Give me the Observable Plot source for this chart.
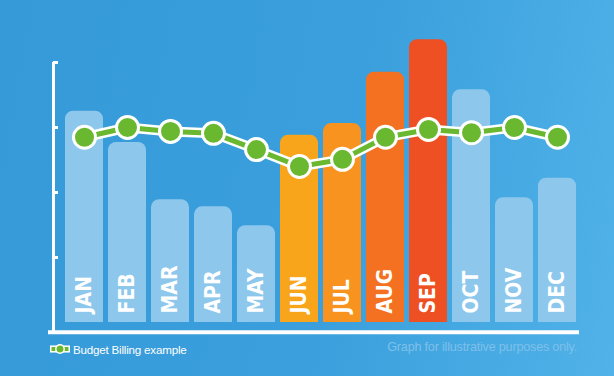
<!DOCTYPE html>
<html><head><meta charset="utf-8">
<script src="https://cdn.jsdelivr.net/npm/d3@7"></script>
<script src="https://cdn.jsdelivr.net/npm/@observablehq/plot@0.6"></script>
<style>
html,body{margin:0;padding:0;width:614px;height:376px;overflow:hidden}
body{background:linear-gradient(100deg,#369ad9 0%,#3a9fdc 55%,#50b2e8 100%);font-family:"Liberation Sans",Arial,sans-serif;position:relative}
#chart svg{display:block;background:transparent}
#legend{position:absolute;left:50px;top:341px;height:16px;display:flex;align-items:center;color:#fff;font-size:11.6px;letter-spacing:-0.2px}
#legend svg{margin-right:3px}
#caption{position:absolute;right:37px;top:339px;height:16px;line-height:16px;color:#7ec0ea;font-size:12.6px;letter-spacing:-0.2px}
</style></head><body>
<div id="chart"></div>
<div id="legend"><svg width="20" height="10" viewBox="0 0 20 10"><rect x="0.75" y="2.2" width="18.5" height="5.6" fill="#69b82f" stroke="#fff" stroke-width="1.5"/><circle cx="10" cy="5" r="4.2" fill="#69b82f" stroke="#fff" stroke-width="1.5"/></svg><span>Budget Billing example</span></div>
<div id="caption">Graph for illustrative purposes only.</div>
<script>
const months = ["JAN","FEB","MAR","APR","MAY","JUN","JUL","AUG","SEP","OCT","NOV","DEC"];
const monthlyCost = [325,277,189,178,149,288,306,385,435,358,192,222];
const budgetBilling = [285,300,294,291,266,240,251,285,297,292,300,285];
const barColors = ["#8dc7ec","#8dc7ec","#8dc7ec","#8dc7ec","#8dc7ec","#f8a51b","#f7931e","#f37121","#ee4f23","#8dc7ec","#8dc7ec","#8dc7ec"];
const yTicks = [100,200,300,400];
const axisBase = -15;

const data = months.map((m, i) => ({month: m, cost: monthlyCost[i], budget: budgetBilling[i], color: barColors[i]}));

const plot = Plot.plot({
  width: 614,
  height: 340,
  marginLeft: 62,
  marginRight: 35,
  marginTop: 10,
  marginBottom: 18,
  style: {background: "transparent", overflow: "visible"},
  x: {domain: months, paddingInner: 0.12, paddingOuter: 0.06, axis: null},
  y: {domain: [0, 400], range: [322, 62], axis: null},
  marks: [
    Plot.barY(data, {x: "month", y1: -30, y2: "cost", fill: "color", rx: 8, clip: "frame"}),
    Plot.text(data, {x: "month", y: 0, text: "month", rotate: -90, textAnchor: "start", dy: -9,
      fill: "#fff", fontWeight: "bold", fontSize: 21,
      fontFamily: "'Liberation Sans Narrow','DejaVu Sans Condensed','Roboto Condensed',sans-serif"}),
    Plot.ruleX([axisBase], {x: null, y1: axisBase, y2: 400, dx: 53 - (62 + 579) / 2, stroke: "#fff", strokeWidth: 3}),
    Plot.ruleY(yTicks, {y: d => d, insetLeft: -9, insetRight: 579 - 58, stroke: "#fff", strokeWidth: 3}),
    Plot.ruleY([axisBase], {y: d => d, insetLeft: -14, stroke: "#fff", strokeWidth: 4}),
    Plot.line(data, {x: "month", y: "budget", stroke: "#fff", strokeWidth: 10}),
    Plot.line(data, {x: "month", y: "budget", stroke: "#69b82f", strokeWidth: 5}),
    Plot.dot(data, {x: "month", y: "budget", r: 11, fill: "#69b82f", stroke: "#fff", strokeWidth: 3})
  ]
});
document.getElementById("chart").appendChild(plot);
</script>
</body></html>
